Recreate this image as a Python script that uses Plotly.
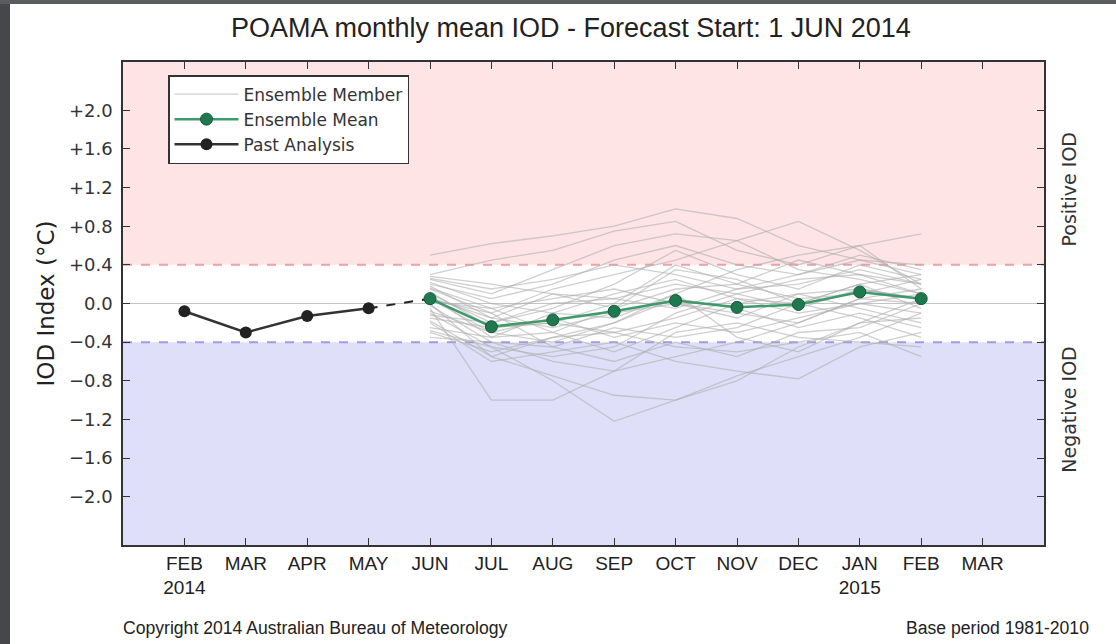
import plotly.graph_objects as go

W, H = 1116, 644
ML, MR, MT, MB = 123, 72, 62, 99

NARROW = "Liberation Sans, Arial, sans-serif"
REG = "DejaVu Sans, Verdana, sans-serif"

months = ["FEB<br>2014", "MAR", "APR", "MAY", "JUN", "JUL", "AUG", "SEP",
          "OCT", "NOV", "DEC", "JAN<br>2015", "FEB", "MAR"]
month_pos = list(range(1, 15))

past_x = [1, 2, 3, 4]
past_analysis = [-0.08, -0.30, -0.13, -0.05]

fc_x = [5, 6, 7, 8, 9, 10, 11, 12, 13]
ens_mean = [0.05, -0.24, -0.17, -0.08, 0.03, -0.04, -0.01, 0.12, 0.05]

members = [
    [0.50, 0.62, 0.70, 0.80, 0.98, 0.88, 0.60, 0.45, 0.30],
    [0.30, 0.45, 0.55, 0.75, 0.85, 0.55, 0.40, 0.60, 0.72],
    [0.25, 0.10, 0.35, 0.60, 0.72, 0.65, 0.85, 0.55, 0.20],
    [0.20, 0.05, 0.20, 0.45, 0.60, 0.40, 0.30, 0.50, 0.35],
    [0.15, -0.10, 0.15, 0.30, 0.45, 0.65, 0.35, 0.25, 0.10],
    [0.10, -0.20, -0.05, 0.20, 0.55, 0.30, 0.15, 0.40, 0.25],
    [0.05, -0.30, -0.40, -0.20, 0.10, 0.35, 0.50, 0.60, 0.15],
    [0.00, -0.55, -0.75, -0.95, -1.00, -0.75, -0.55, -0.35, -0.10],
    [-0.05, -1.00, -1.00, -0.70, -0.55, -0.40, -0.20, 0.05, 0.00],
    [-0.10, -0.45, -0.80, -1.22, -1.00, -0.80, -0.45, -0.20, -0.15],
    [-0.20, -0.60, -0.50, -0.40, -0.60, -0.70, -0.78, -0.45, -0.30],
    [-0.30, -0.50, -0.35, -0.30, -0.45, -0.50, -0.40, -0.30, -0.55],
    [-0.35, -0.40, -0.60, -0.70, -0.30, -0.20, -0.35, -0.40, -0.45],
    [0.28, 0.20, 0.10, 0.05, 0.20, 0.10, 0.25, 0.30, 0.20],
    [0.22, 0.00, -0.10, 0.10, 0.25, 0.05, 0.00, 0.20, 0.30],
    [0.18, -0.15, -0.25, -0.10, 0.00, -0.15, 0.10, 0.15, 0.05],
    [0.12, -0.25, -0.20, -0.30, -0.15, 0.05, -0.10, 0.00, -0.10],
    [0.08, -0.35, -0.30, -0.05, 0.15, 0.20, 0.05, 0.10, 0.25],
    [0.02, -0.05, 0.05, 0.15, 0.00, -0.10, -0.20, 0.05, 0.15],
    [-0.02, -0.40, -0.45, -0.25, -0.35, -0.25, 0.00, 0.20, -0.05],
    [-0.08, -0.30, -0.15, -0.35, -0.20, -0.30, -0.15, 0.00, 0.10],
    [-0.12, -0.20, 0.00, 0.05, -0.05, 0.15, 0.20, 0.35, 0.20],
    [-0.18, -0.55, -0.35, -0.20, 0.05, -0.05, -0.25, -0.10, -0.25],
    [-0.25, -0.35, -0.10, -0.15, 0.10, -0.35, -0.50, -0.20, 0.05],
    [0.26, 0.15, 0.25, 0.40, 0.30, 0.15, 0.30, 0.45, 0.40],
    [0.16, -0.05, -0.30, -0.50, -0.25, 0.00, 0.10, -0.05, -0.20],
    [-0.28, -0.45, -0.55, -0.45, -0.10, 0.10, -0.05, 0.15, 0.05],
    [0.06, -0.15, 0.10, -0.05, 0.35, 0.25, 0.00, -0.15, -0.35],
    [-0.15, -0.25, -0.20, 0.00, 0.40, 0.20, 0.45, 0.30, 0.10],
    [0.04, -0.10, -0.45, -0.60, -0.40, -0.55, -0.30, -0.25, 0.00],
]

y_ticks = [2.0, 1.6, 1.2, 0.8, 0.4, 0.0, -0.4, -0.8, -1.2, -1.6, -2.0]
y_labels = ["+2.0", "+1.6", "+1.2", "+0.8", "+0.4", "0.0",
            "\u22120.4", "\u22120.8", "\u22121.2", "\u22121.6", "\u22122.0"]

fig = go.Figure()

for i, m in enumerate(members):
    fig.add_trace(go.Scatter(
        x=fc_x, y=m, mode="lines", name="Ensemble Member",
        legendgroup="mem", showlegend=(i == 0),
        line=dict(color="rgba(175,175,175,0.6)", width=1.3),
        hoverinfo="skip",
    ))

# dashed link between last analysis and forecast start
fig.add_trace(go.Scatter(
    x=[past_x[-1], fc_x[0]], y=[past_analysis[-1], ens_mean[0]],
    mode="lines", showlegend=False,
    line=dict(color="#222222", width=2, dash="dash"),
))

fig.add_trace(go.Scatter(
    x=fc_x, y=ens_mean, mode="lines+markers", name="Ensemble Mean",
    line=dict(color="#3d9a6a", width=2.5),
    marker=dict(color="#1e7a4e", size=12, line=dict(color="#145a38", width=1)),
))

fig.add_trace(go.Scatter(
    x=past_x, y=past_analysis, mode="lines+markers", name="Past Analysis",
    line=dict(color="#333333", width=2.5),
    marker=dict(color="#222222", size=12),
))

# IOD bands and threshold lines
fig.add_hrect(y0=0.4, y1=2.5, fillcolor="#fee4e4", line_width=0, layer="below")
fig.add_hrect(y0=-2.5, y1=-0.4, fillcolor="#dfdff9", line_width=0, layer="below")
fig.add_hline(y=0.4, line=dict(color="#f0a0a0", width=2, dash="dash"), layer="below")
fig.add_hline(y=-0.4, line=dict(color="#9c9ce6", width=2, dash="dash"), layer="below")
fig.add_hline(y=0.0, line=dict(color="#c4c4c4", width=1.2), layer="below")

# dark frame strips of the screenshot
pw, ph = W - ML - MR, H - MT - MB
px = lambda v: (v - ML) / pw
py = lambda v: (H - MB - v) / ph
fig.add_shape(type="rect", xref="paper", yref="paper",
              x0=px(0), x1=px(10), y0=py(H), y1=py(0),
              fillcolor="#45474a", line_width=0)
fig.add_shape(type="rect", xref="paper", yref="paper",
              x0=px(0), x1=px(W), y0=py(4), y1=py(0),
              fillcolor="#5a5c5f", line_width=0)

fig.add_annotation(text="POAMA monthly mean IOD - Forecast Start: 1 JUN 2014",
                   xref="paper", yref="paper", x=px(571), y=py(28),
                   xanchor="center", yanchor="middle", showarrow=False,
                   font=dict(family=NARROW, size=27, color="#222222"))
fig.add_annotation(text="IOD Index (\u00b0C)", textangle=-90,
                   xref="paper", yref="y", x=px(45), y=0.0,
                   xanchor="center", yanchor="middle", showarrow=False,
                   font=dict(family=REG, size=23, color="#222222"))
fig.add_annotation(text="Positive IOD", textangle=-90,
                   xref="paper", yref="y", x=px(1069), y=1.18,
                   xanchor="center", yanchor="middle", showarrow=False,
                   font=dict(family=REG, size=19, color="#333333"))
fig.add_annotation(text="Negative IOD", textangle=-90,
                   xref="paper", yref="y", x=px(1069), y=-1.1,
                   xanchor="center", yanchor="middle", showarrow=False,
                   font=dict(family=REG, size=19, color="#333333"))
fig.add_annotation(text="Copyright 2014 Australian Bureau of Meteorology",
                   xref="paper", yref="paper", x=px(121), y=py(628),
                   xanchor="left", yanchor="middle", showarrow=False,
                   font=dict(family=NARROW, size=17.6, color="#222222"))
fig.add_annotation(text="Base period 1981-2010",
                   xref="paper", yref="paper", x=px(1091), y=py(628),
                   xanchor="right", yanchor="middle", showarrow=False,
                   font=dict(family=NARROW, size=17.6, color="#222222"))

fig.update_xaxes(
    range=[0, 15], tickmode="array", tickvals=month_pos, ticktext=months,
    ticks="inside", ticklen=7, tickcolor="#333333", mirror="ticks",
    showline=True, linecolor="#333333", linewidth=1.5, showgrid=False, zeroline=False,
    tickfont=dict(family=NARROW, size=19, color="#222222"),
)
fig.update_yaxes(
    range=[-2.5, 2.5], tickmode="array", tickvals=y_ticks, ticktext=y_labels,
    ticks="inside", ticklen=7, tickcolor="#333333", mirror="ticks",
    showline=True, linecolor="#333333", linewidth=1.5, showgrid=False, zeroline=False,
    tickfont=dict(family=REG, size=18, color="#333333"), ticklabelstandoff=5,
)

fig.update_layout(
    width=W, height=H,
    margin=dict(l=ML, r=MR, t=MT, b=MB),
    paper_bgcolor="white", plot_bgcolor="white",
    legend=dict(x=px(168), y=py(75), xanchor="left", yanchor="top",
                bgcolor="white", bordercolor="#333333", borderwidth=1.5,
                font=dict(family=REG, size=17, color="#333333"),
                itemwidth=64, traceorder="normal", tracegroupgap=0),
)

fig.write_html("out.html", config={"displayModeBar": False},
               post_script="document.body.style.margin='0';")
